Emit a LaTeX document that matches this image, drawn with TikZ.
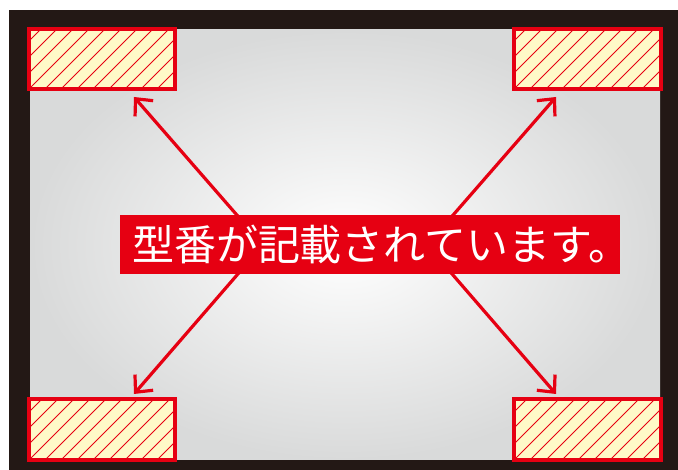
\documentclass[tikz,border=0pt]{standalone}
\usepackage{fontspec}
\newfontfamily\cjk{Noto Sans CJK JP}
\usetikzlibrary{arrows.meta}
\definecolor{mred}{HTML}{E60012}
\definecolor{frame}{HTML}{231815}
\definecolor{hfill}{HTML}{FFF9C8}
\definecolor{edgegray}{HTML}{D9DADA}
\tikzset{
  arrowline/.style={draw=mred, line width=3.2pt, -{Straight Barb[length=13pt, width=24pt, line width=3.2pt]}},
  labelbox/.style={fill=mred, text=white, inner sep=0pt, minimum width=500pt, minimum height=59pt, font=\cjk\fontsize{42}{46}\selectfont},
}
\newcommand{\hatchbox}[4]{%
  \fill[hfill] (#1,#2) rectangle (#3,#4);
  \begin{scope}
    \clip (#1,#2) rectangle (#3,#4);
    \foreach \k in {-80,-64,...,160} {
      \draw[mred, line width=1pt] ({#1+\k},#4) -- ({#1+\k+70},{#4-70});
    }
  \end{scope}
  \draw[mred, line width=3.5pt] (#1,#2) rectangle (#3,#4);
}
\begin{document}
\begin{tikzpicture}[x=1pt, y=-1pt]
\useasboundingbox (0,0) rectangle (678,470);
\fill[white] (0,0) rectangle (678,470);
\fill[frame] (9,10) rectangle (678,470);
\shade[inner color=white, outer color=edgegray] (30,30) rectangle (660,460);
\coordinate (c1) at (263,245);
\coordinate (c2) at (427,245);
\coordinate (c3) at (263,245);
\coordinate (c4) at (427,245);
\coordinate (tl) at (134,97);
\coordinate (tr) at (556,97);
\coordinate (bl) at (134,394);
\coordinate (br) at (556,394);
\draw[arrowline] (c1) -- (tl);
\draw[arrowline] (c2) -- (tr);
\draw[arrowline] (c3) -- (bl);
\draw[arrowline] (c4) -- (br);
\hatchbox{29}{29}{175}{89}
\hatchbox{514}{29}{661}{89}
\hatchbox{29}{399}{175}{460}
\hatchbox{514}{399}{661}{460}
\node[labelbox] (label) at (370,244.5) {\makebox[500pt][l]{\hspace*{12pt}型番が記載されています。}};
\end{tikzpicture}
\end{document}
